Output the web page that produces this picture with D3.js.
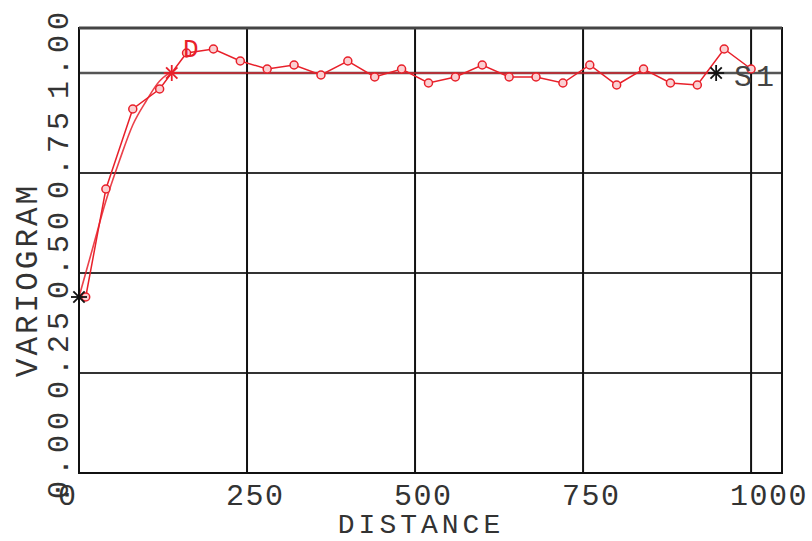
<!DOCTYPE html>
<html>
<head>
<meta charset="utf-8">
<script src="https://cdn.jsdelivr.net/npm/d3@7"></script>
<style>
  body { margin: 0; background: #fff; }
  text { font-family: "Liberation Mono", "DejaVu Sans Mono", monospace; }
</style>
</head>
<body>
<div id="chart"></div>
<script>
// Experimental variogram (lag distance, value)
const lags   = [10, 40, 80, 120, 160, 200, 240, 280, 320, 360, 400, 440, 480,
                520, 560, 600, 640, 680, 720, 760, 800, 840, 880, 920, 960, 1000];
const gammas = [0.44, 0.71, 0.91, 0.96, 1.05, 1.06, 1.03, 1.01, 1.02, 0.995, 1.03, 0.99, 1.01,
                0.975, 0.99, 1.02, 0.99, 0.99, 0.975, 1.02, 0.97, 1.01, 0.975, 0.97, 1.06, 1.01];

// Fitted model curve
const modelH = [0, 20, 40, 60, 80, 100, 120, 138, 948];
const modelG = [0.44, 0.56, 0.68, 0.78, 0.87, 0.93, 0.98, 1.0, 1.0];

// Star markers
const starH = [0, 138, 948];
const starG = [0.44, 1.0, 1.0];
const starC = ["#111", "#e8202a", "#111"];

const xTicks = [0, 250, 500, 750, 1000];
const yTicks = [0, 0.25, 0.5, 0.75, 1.0];
const yTickLabels = ["0.00", "0.25", "0.50", "0.75", "1.00"];

const W = 812, H = 541;
const red = "#e8202a";
const ink = "#333";

const svg = d3.select("#chart").append("svg")
  .attr("width", W)
  .attr("height", H);

const x = d3.scaleLinear().domain([0, 1046]).range([79, 782]);
const y = d3.scaleLinear().domain([0, 1.1125]).range([473, 28]);

// Grid lines
svg.append("g")
  .selectAll("line.h")
  .data(yTicks.slice(1))
  .join("line")
  .attr("x1", x(0)).attr("x2", x(1046))
  .attr("y1", d => y(d)).attr("y2", d => y(d))
  .attr("stroke", d => d === 1.0 ? "#555" : "#333")
  .attr("stroke-width", d => d === 1.0 ? 2.5 : 2);

svg.append("g")
  .selectAll("line.v")
  .data(xTicks.slice(1))
  .join("line")
  .attr("x1", d => x(d)).attr("x2", d => x(d))
  .attr("y1", y(1.1125)).attr("y2", y(0))
  .attr("stroke", "#111")
  .attr("stroke-width", 2);

// Frame
svg.append("rect")
  .attr("x", x(0)).attr("y", y(1.1125))
  .attr("width", x(1046) - x(0))
  .attr("height", y(0) - y(1.1125))
  .attr("fill", "none")
  .attr("stroke", "#111")
  .attr("stroke-width", 2);
svg.append("line")
  .attr("x1", x(0)).attr("x2", x(1046))
  .attr("y1", y(1.1125)).attr("y2", y(1.1125))
  .attr("stroke", "#444")
  .attr("stroke-width", 3);

// Model curve
svg.append("path")
  .datum(modelH.map((h, i) => [h, modelG[i]]))
  .attr("d", d3.line().x(d => x(d[0])).y(d => y(d[1])).curve(d3.curveMonotoneX))
  .attr("fill", "none")
  .attr("stroke", red)
  .attr("stroke-opacity", 0.85)
  .attr("stroke-width", 1.6);

// Experimental variogram
const pts = lags.map((h, i) => [h, gammas[i]]);
svg.append("path")
  .datum(pts)
  .attr("d", d3.line().x(d => x(d[0])).y(d => y(d[1])))
  .attr("fill", "none")
  .attr("stroke", red)
  .attr("stroke-width", 1.5);

svg.append("g")
  .selectAll("circle")
  .data(pts)
  .join("circle")
  .attr("cx", d => x(d[0]))
  .attr("cy", d => y(d[1]))
  .attr("r", 4)
  .attr("fill", "#fbd0d2")
  .attr("stroke", red)
  .attr("stroke-width", 1.5);

// Stars
svg.append("g")
  .selectAll("g.star")
  .data(starH.map((h, i) => ({ h, g: starG[i], c: starC[i] })))
  .join("g")
  .attr("transform", d => `translate(${x(d.h)},${y(d.g)})`)
  .each(function(d) {
    const g = d3.select(this);
    [0, 45, 90, 135].forEach(a => {
      g.append("line")
        .attr("x1", -8).attr("x2", 8)
        .attr("y1", 0).attr("y2", 0)
        .attr("transform", `rotate(${a})`)
        .attr("stroke", d.c)
        .attr("stroke-width", 1.8);
    });
  });

// Point labels
svg.append("text")
  .attr("x", 183).attr("y", 57)
  .attr("fill", red)
  .style("font-size", "26px")
  .text("D");

svg.append("text")
  .attr("x", 734).attr("y", 86)
  .attr("fill", "#444")
  .style("font-size", "30px")
  .style("letter-spacing", "4px")
  .text("S1");

// X tick labels
svg.append("g")
  .selectAll("text")
  .data(xTicks)
  .join("text")
  .attr("x", d => x(d) - 21)
  .attr("y", 505)
  .attr("fill", ink)
  .style("font-size", "30px")
  .style("letter-spacing", "1.5px")
  .text(d => d);

// Y tick labels (rotated)
svg.append("g")
  .selectAll("text")
  .data(yTicks)
  .join("text")
  .attr("transform", d => `translate(68,${y(d) - 20}) rotate(-90)`)
  .attr("text-anchor", "middle")
  .attr("fill", ink)
  .style("font-size", "30px")
  .style("letter-spacing", "5px")
  .text((d, i) => yTickLabels[i]);

// Axis titles
svg.append("text")
  .attr("x", 421).attr("y", 533)
  .attr("text-anchor", "middle")
  .attr("fill", ink)
  .style("font-size", "28px")
  .style("letter-spacing", "4px")
  .text("DISTANCE");

svg.append("text")
  .attr("transform", "translate(37,280) rotate(-90)")
  .attr("text-anchor", "middle")
  .attr("fill", ink)
  .style("font-size", "31px")
  .style("letter-spacing", "3px")
  .text("VARIOGRAM");
</script>
</body>
</html>
